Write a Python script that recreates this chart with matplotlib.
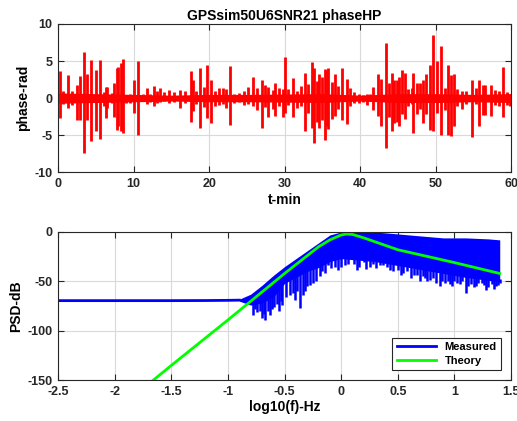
import numpy as np
import matplotlib
matplotlib.use("Agg")
import matplotlib.pyplot as plt
from matplotlib.ticker import FuncFormatter

# ---- top panel: phase spikes (t in minutes, upper / lower extent in rad)
SPIKE_T = [0.22, 0.6, 1.24, 1.8, 2.49, 2.93, 3.40, 3.85, 4.38, 4.95, 5.53, 6.10,
           6.33, 6.50, 7.10, 7.40, 7.74, 7.95, 8.26, 8.53, 9.0, 9.5, 10.08, 10.52,
           11.2, 11.71, 12.20, 12.67, 13.10, 13.50, 14.0, 14.7, 15.3, 16.2, 16.8,
           17.55, 17.80, 18.30, 18.80, 19.30, 19.66, 20.20, 20.80, 21.3, 21.8, 22.3,
           22.76, 23.3, 24.0, 24.6, 25.20, 25.80, 26.30, 26.96, 27.40, 27.85, 28.40,
           28.75, 29.30, 29.85, 30.05, 30.5, 31.15, 31.7, 32.2, 32.70, 33.1, 33.58,
           33.94, 34.30, 34.60, 35.00, 35.35, 35.58, 35.79, 36.25, 36.68, 37.10,
           37.57, 38.20, 38.6, 39.2, 39.8, 40.4, 40.9, 41.3, 41.76, 42.40, 42.80,
           43.44, 43.85, 44.20, 44.55, 44.85, 45.10, 45.50, 45.96, 46.4, 46.9,
           47.06, 47.50, 47.95, 48.40, 48.70, 49.30, 49.63, 50.15, 50.70, 51.2,
           51.70, 52.10, 52.40, 52.9, 53.47, 54.0, 54.80, 55.3, 55.80, 56.3, 56.56,
           57.30, 57.89, 58.4, 58.90, 59.4, 59.80]
SPIKE_HI = [3.7, 0.9, 3.1, 0.9, 1.8, 3.0, 6.2, 3.3, 5.2, 3.8, 5.2, 0.8,
            1.5, 1.5, 0.7, 2.0, 4.0, 4.2, 4.7, 5.3, 0.4, 0.6, 2.5, 5.0,
            0.5, 1.4, 0.6, 1.6, 0.9, 1.4, 0.8, 1.1, 0.8, 1.1, 0.9,
            3.7, 2.5, 1.0, 4.0, 1.5, 4.5, 2.5, 0.9, 1.4, 1.3, 1.2,
            4.3, 0.6, 0.7, 1.0, 1.5, 2.9, 1.4, 2.5, 1.7, 1.5, 1.1,
            2.1, 1.3, 1.2, 5.5, 1.2, 2.7, 1.0, 1.6, 3.4, 1.9, 4.9,
            4.1, 2.3, 3.2, 2.8, 3.9, 3.8, 4.1, 2.2, 3.2, 1.6,
            4.0, 2.6, 1.4, 0.8, 0.5, 0.4, 0.5, 0.6, 1.5, 3.2, 2.6,
            7.5, 2.0, 3.4, 2.4, 2.5, 2.8, 3.8, 3.4, 1.2, 1.3,
            3.4, 2.1, 2.1, 2.5, 3.3, 4.5, 8.5, 5.0, 7.0, 1.4,
            4.4, 3.1, 3.3, 1.2, 0.9, 1.0, 2.5, 1.3, 2.5, 1.7, 1.7,
            1.8, 1.1, 0.9, 4.2, 0.8, 0.6]
SPIKE_LO = [-2.7, -0.8, -1.3, -0.9, -3.0, -3.0, -7.4, -3.0, -5.8, -4.5, -5.5, -1.0,
            -2.7, -1.4, -0.6, -2.5, -4.3, -3.8, -4.5, -4.7, -0.7, -0.6, -2.0, -5.0,
            -0.4, -0.8, -0.5, -1.1, -0.6, -0.5, -0.4, -0.6, -0.5, -1.4, -0.7,
            -3.2, -1.8, -0.8, -4.0, -1.2, -2.7, -3.3, -1.0, -0.9, -0.8, -1.4,
            -3.6, -0.6, -0.5, -0.9, -0.8, -1.1, -1.6, -4.0, -1.2, -2.6, -1.5,
            -2.4, -1.0, -2.6, -2.0, -0.9, -2.5, -1.4, -1.0, -4.5, -2.0, -4.0,
            -6.1, -3.2, -4.0, -3.0, -5.6, -3.7, -4.2, -2.8, -2.4, -1.5,
            -2.9, -3.5, -1.1, -0.7, -0.6, -0.5, -0.9, -0.4, -1.6, -2.4, -3.8,
            -6.7, -2.6, -4.5, -3.3, -3.2, -3.8, -2.2, -2.8, -1.0, -0.8,
            -4.7, -2.2, -1.5, -3.3, -2.2, -4.3, -4.4, -2.0, -5.0, -1.6,
            -5.0, -5.1, -3.8, -1.0, -1.5, -0.8, -5.2, -0.8, -3.8, -2.3, -2.3,
            -2.4, -0.9, -1.0, -2.5, -0.9, -1.0]
BASE_T = [0, 5, 10, 15, 20, 25, 30, 35, 40, 45, 50, 55, 60]
BASE_AMP = [0.7, 0.6, 0.5, 0.4, 0.5, 0.5, 0.55, 0.6, 0.4, 0.6, 0.6, 0.5, 0.6]

# ---- bottom panel: PSD (log10 f, dB)
FLAT_F = [-2.5, -2.0, -1.5, -1.2, -1.0, -0.9]
FLAT_DB = [-69.5, -69.5, -69.5, -69.4, -69.2, -69.0]
BAND_F = [-0.9, -0.8, -0.7, -0.6, -0.5, -0.4, -0.3, -0.2, -0.1, 0.0, 0.1, 0.3,
          0.5, 0.7, 0.9, 1.1, 1.3, 1.4]
BAND_TOP = [-68, -63, -54, -44, -35, -27, -19, -11, -3, 0, 0, 0,
            -2, -4, -6, -6, -7, -8]
BAND_BOT = [-70, -74, -72, -66, -52, -46, -40, -36, -30, -27, -28, -30,
            -34, -38, -42, -46, -49, -50]
DIP_F = [-0.78, -0.76, -0.74, -0.72, -0.70, -0.685, -0.67, -0.65, -0.63, -0.61,
         -0.59, -0.57, -0.55, -0.535, -0.52, -0.49, -0.45, -0.43, -0.41, -0.39,
         -0.365, -0.34, -0.32, -0.30, -0.28, -0.25, -0.22, -0.19, -0.17, -0.145,
         -0.12, -0.09, -0.056, -0.03, 0.0, 0.03, 0.06, 0.09, 0.11, 0.14, 0.16,
         0.18, 0.20, 0.22, 0.25, 0.28, 0.31, 0.34, 0.37, 0.40, 0.43, 0.46, 0.50,
         0.53, 0.55, 0.58, 0.62, 0.64, 0.67, 0.70, 0.72, 0.74, 0.76, 0.78, 0.81,
         0.84, 0.87, 0.89, 0.92, 0.94, 0.96, 0.98, 1.0, 1.02, 1.05, 1.07, 1.10,
         1.12, 1.15, 1.17, 1.19, 1.21, 1.24, 1.26, 1.28, 1.30, 1.33, 1.35, 1.37,
         1.385, 1.40]
DIP_DB = [-84, -78, -81, -80, -87, -83, -89, -80, -84, -78,
          -76, -73, -80, -70, -74, -66, -64, -62, -69, -60,
          -77, -64, -60, -55, -54, -52, -50, -45, -40, -42,
          -33, -36, -35, -38, -35, -33, -32, -27, -32, -38.5, -35,
          -25, -30, -37, -35, -32, -36, -33, -33, -35, -38.5, -40, -38,
          -43.6, -42, -40, -47, -44, -43.6, -50, -45, -47, -50, -48.5, -47,
          -52, -55, -50, -52, -50, -53, -55, -50, -52, -53, -50, -62,
          -55, -53, -56, -55, -52, -52, -54, -59, -56, -53, -58, -55,
          -54, -52]
THEORY_F = [-1.66, -1.5, -1.0, -0.5, -0.3, -0.2, -0.1, 0.0, 0.05, 0.1, 0.2,
            0.5, 1.0, 1.4]
THEORY_DB = [-150, -135, -89, -42, -24, -15, -8, -3, -2, -2.5, -6,
             -18, -31, -42]

plt.rcParams["font.family"] = ["Liberation Sans", "DejaVu Sans"]
plt.rcParams["font.weight"] = "bold"
plt.rcParams["axes.unicode_minus"] = False

fmt = FuncFormatter(lambda v, p: "%g" % v)


def style(ax):
    ax.grid(True, color="#d9d9d9", linewidth=0.8)
    ax.set_axisbelow(True)
    ax.tick_params(direction="in", top=True, right=True, length=4,
                   labelsize=9, colors="#262626", pad=4)
    for s in ax.spines.values():
        s.set_color("#262626")
        s.set_linewidth(0.8)
    ax.xaxis.set_major_formatter(fmt)
    ax.yaxis.set_major_formatter(fmt)
    for lab in ax.get_xticklabels() + ax.get_yticklabels():
        lab.set_fontweight("bold")


fig = plt.figure(figsize=(5.17, 4.21), dpi=100)
ax1 = fig.add_axes([0.1125, 0.591, 0.876, 0.352])
ax2 = fig.add_axes([0.1125, 0.097, 0.876, 0.352])

ax1.fill_between(BASE_T, [-a for a in BASE_AMP], BASE_AMP, color="red", lw=0)
ax1.vlines(SPIKE_T, SPIKE_LO, SPIKE_HI, color="red", linewidth=2)
ax1.plot(BASE_T, [0] * len(BASE_T), color="red", linewidth=2)
ax1.set_xlim(0, 60)
ax1.set_ylim(-10, 10)
ax1.set_xticks(range(0, 61, 10))
ax1.set_yticks([-10, -5, 0, 5, 10])
style(ax1)
ax1.set_title("GPSsim50U6SNR21 phaseHP", fontsize=10, fontweight="bold", pad=3)
ax1.set_xlabel("t-min", fontsize=10, fontweight="bold", labelpad=2)
ax1.set_ylabel("phase-rad", fontsize=10, fontweight="bold", labelpad=3)

ax2.fill_between(BAND_F, BAND_BOT, BAND_TOP, color="blue", lw=0)
ax2.vlines(DIP_F, DIP_DB, np.interp(DIP_F, BAND_F, BAND_BOT) + 2,
           color="blue", linewidth=1.8)
ax2.plot(FLAT_F, FLAT_DB, color="blue", linewidth=2, label="Measured")
ax2.plot(THEORY_F, THEORY_DB, color="#00ff00", linewidth=2, label="Theory")
ax2.set_xlim(-2.5, 1.5)
ax2.set_ylim(-150, 0)
ax2.set_xticks(np.arange(-2.5, 1.51, 0.5))
ax2.set_yticks([-150, -100, -50, 0])
style(ax2)
ax2.set_xlabel("log10(f)-Hz", fontsize=10, fontweight="bold", labelpad=2)
ax2.set_ylabel("PSD-dB", fontsize=10, fontweight="bold", labelpad=3)
leg = ax2.legend(loc="lower right", fontsize=8, fancybox=False,
                 edgecolor="#262626", handlelength=3.5, borderaxespad=0.9,
                 framealpha=1, borderpad=0.4, labelspacing=0.3)
for t in leg.get_texts():
    t.set_fontweight("bold")
leg.get_frame().set_linewidth(0.8)

fig.savefig("out.png", dpi=100)
